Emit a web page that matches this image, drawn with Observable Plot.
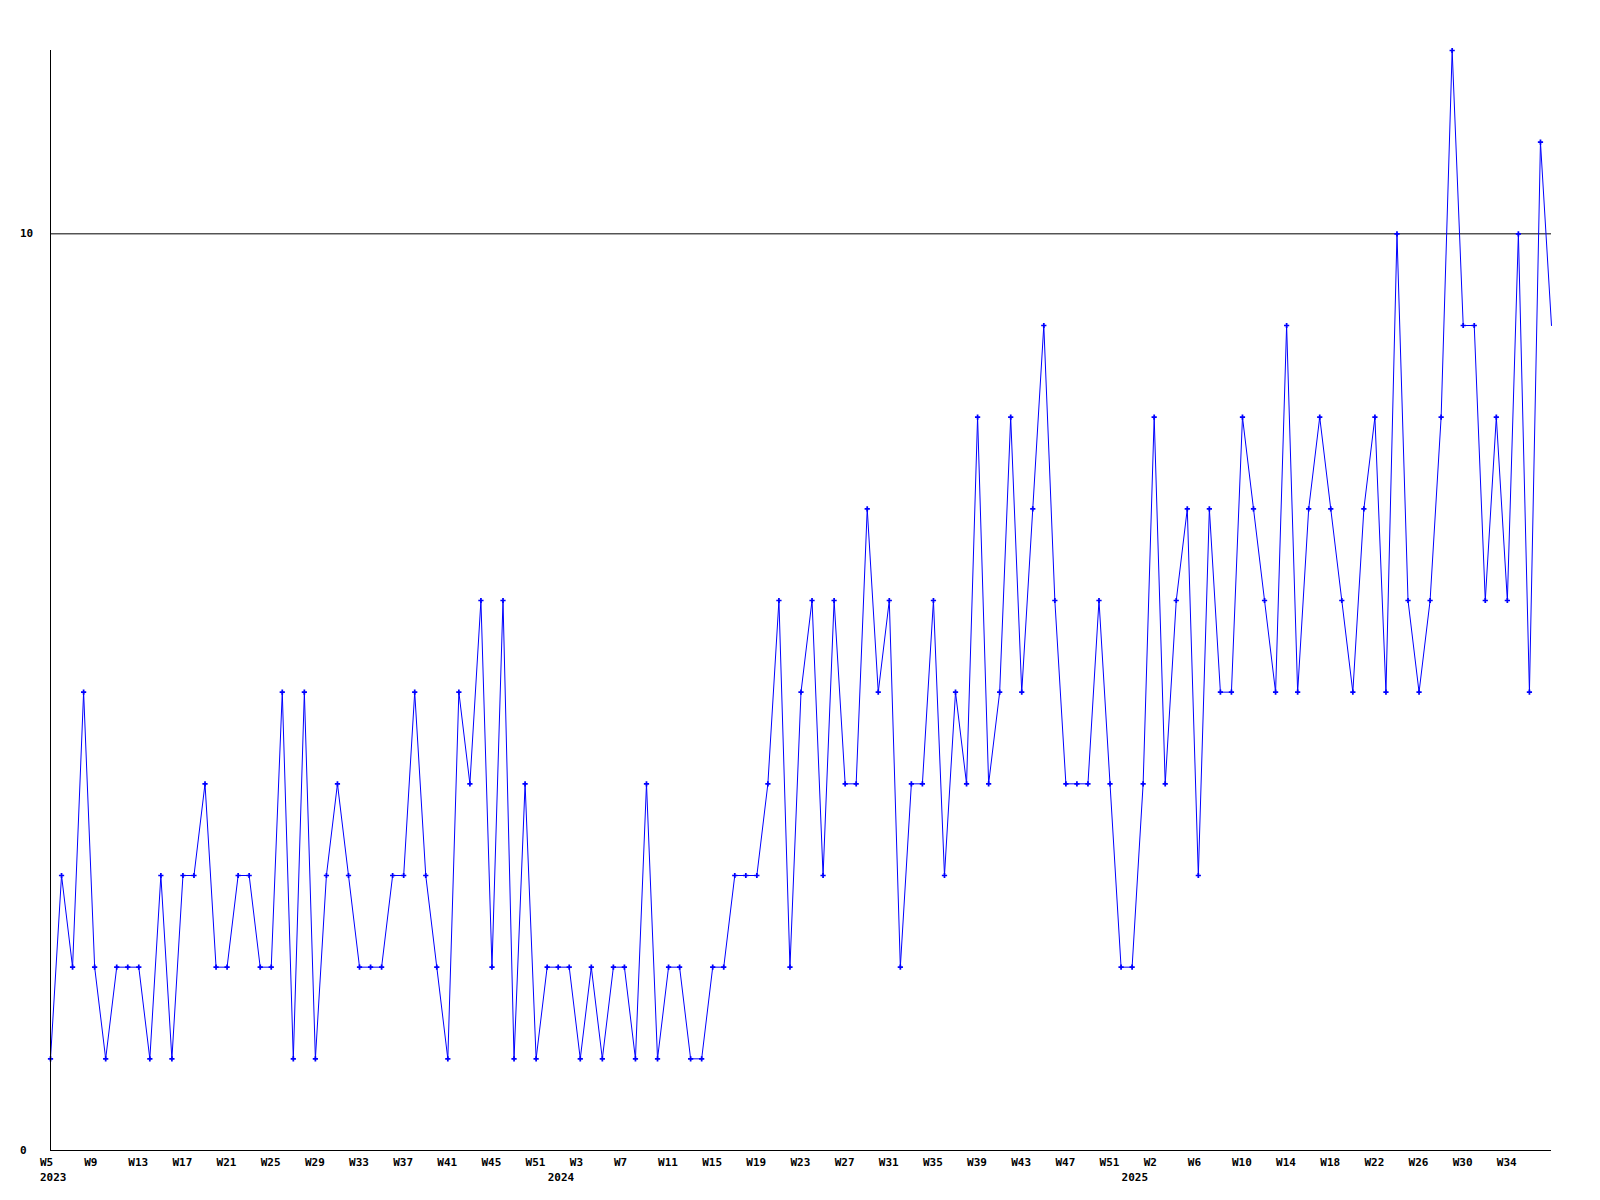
<!DOCTYPE html>
<html>
<head>
<meta charset="utf-8">
<script src="https://cdn.jsdelivr.net/npm/d3@7"></script>
<script src="https://cdn.jsdelivr.net/npm/@observablehq/plot@0.6"></script>
<style>
  html, body { margin: 0; padding: 0; background: #ffffff; }
  #chart { width: 1600px; height: 1200px; }
</style>
</head>
<body>
<div id="chart"></div>
<script>
// Weekly counts, 2023 W5 .. 2025 (137 weeks)
const values = [
  1,3,2,5,2,1,2,2,2,1,3,1,3,3,4,2,2,3,3,2,2,5,1,5,1,3,4,3,2,2,2,3,3,5,3,2,1,5,4,6,2,6,1,4,1,2,
  2,2,1,2,1,2,2,1,4,1,2,2,1,1,2,2,3,3,3,4,6,2,5,6,3,6,4,4,7,5,6,2,4,4,6,3,5,4,8,4,5,8,5,7,
  9,6,4,4,4,6,4,2,2,4,8,4,6,7,3,7,5,5,8,7,6,5,9,5,7,8,7,6,5,7,8,5,10,6,5,6,8,12,9,9,6,8,6,10,5,11,9
];

// Week tick labels (one every 4 weeks)
const weekTickLabels = [
  "W5","W9","W13","W17","W21","W25","W29","W33","W37","W41","W45","W51",
  "W3","W7","W11","W15","W19","W23","W27","W31","W35","W39","W43","W47","W51",
  "W2","W6","W10","W14","W18","W22","W26","W30","W34"
];
const weekTickIndex = weekTickLabels.map((_, k) => k * 4);

// Year labels and the index of the first week of each year
const yearLabels = ["2023", "2024", "2025"];
const yearStartIndex = [0, 46, 98];

const yTicks = [0, 10];
const referenceLine = [10];

const data = values.map((v, i) => ({i, v}));
const lastIndex = values.length - 1;
const weekMap = new Map(weekTickIndex.map((d, k) => [d, weekTickLabels[k]]));
const yearMap = new Map(yearStartIndex.map((d, k) => [d, yearLabels[k]]));

const font = {fontFamily: "DejaVu Sans Mono", fontWeight: "bold", fontSize: 11};

const chart = Plot.plot({
  width: 1600,
  height: 1200,
  marginLeft: 50,
  marginRight: 49,
  marginTop: 50,
  marginBottom: 50,
  style: {background: "#ffffff", fontFamily: "DejaVu Sans Mono", fontWeight: "bold", fontSize: "11px", color: "#000"},
  x: {type: "linear", domain: [0, lastIndex], axis: null, label: null},
  y: {type: "linear", domain: [0, 12], axis: null, label: null},
  marks: [
    Plot.ruleY(referenceLine, {stroke: "#000", strokeWidth: 1}),
    Plot.line(data, {x: "i", y: "v", stroke: "#0000ff", strokeWidth: 1}),
    Plot.dot(data, {x: "i", y: "v", filter: d => d.i < lastIndex, symbol: "cross", r: 2.2, fill: "#0000ff", stroke: "none"}),
    Plot.ruleX([0], {stroke: "#000", strokeWidth: 1}),
    Plot.ruleY([0], {stroke: "#000", strokeWidth: 1}),
    Plot.axisY({ticks: yTicks, label: null, tickSize: 0, tickPadding: 0, textAnchor: "start", dx: -30.5, tickFormat: d => String(d), fill: "#000", ...font}),
    Plot.axisX({ticks: weekTickIndex, label: null, tickSize: 0, tickPadding: 8, textAnchor: "start", dx: -10.5, tickFormat: d => weekMap.get(d), fill: "#000", ...font}),
    Plot.axisX({ticks: yearStartIndex, label: null, tickSize: 0, tickPadding: 23, textAnchor: "start", dx: -10.5, tickFormat: d => yearMap.get(d), fill: "#000", ...font})
  ]
});
document.getElementById("chart").appendChild(chart);
</script>
</body>
</html>
